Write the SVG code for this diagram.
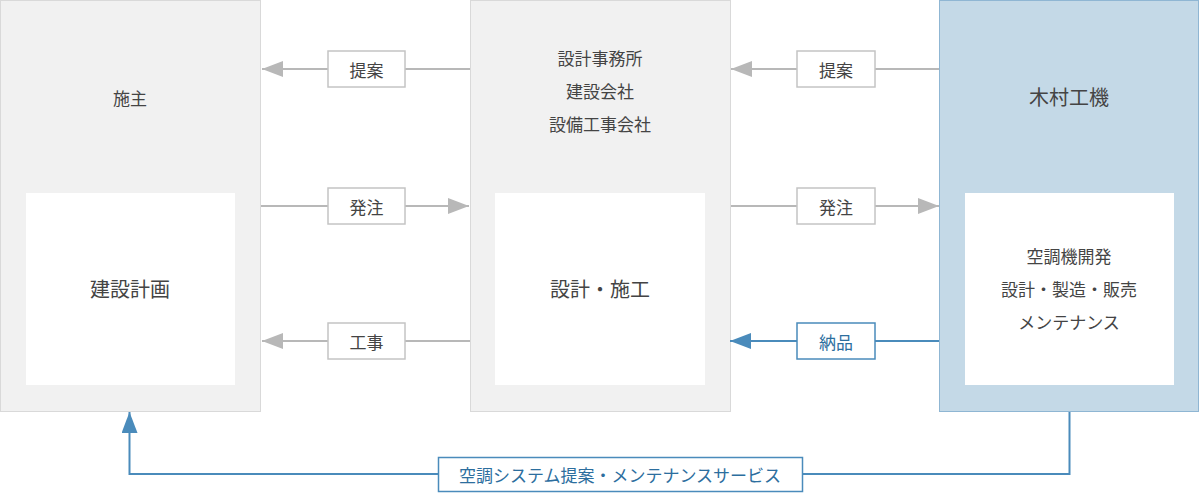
<svg xmlns="http://www.w3.org/2000/svg" width="1200" height="493" viewBox="0 0 1200 493">
<defs>
<style>
text{font-family:"Noto Sans CJK JP","Noto Sans",sans-serif;fill:#444;text-anchor:middle;dominant-baseline:central}
.box{fill:#f1f1f1;stroke:#d9d9d9;stroke-width:1}
.kbox{fill:#c4d9e7;stroke:#8fb6d3;stroke-width:1}
.inner{fill:#fff}
.g{stroke:#b8b8b8;stroke-width:2;fill:none}
.b{stroke:#4a8bbb;stroke-width:2;fill:none}
.lbl{fill:#fff;stroke:#c4c4c4;stroke-width:1.5}
.lblb{fill:#fff;stroke:#4a8bbb;stroke-width:1.5}
.s{font-size:17px}
.m{font-size:20px}
.bt{fill:#2c6e9e}
</style>
<marker id="ag" markerWidth="22" markerHeight="16" refX="21" refY="8" orient="auto" markerUnits="userSpaceOnUse"><path d="M0,0 L21,8 L0,16 z" fill="#b8b8b8"/></marker>
<marker id="ab" markerWidth="22" markerHeight="16" refX="21" refY="8" orient="auto" markerUnits="userSpaceOnUse"><path d="M0,0 L21,8 L0,16 z" fill="#4a8bbb"/></marker>
</defs>
<g id="client">
<rect class="box" x="0.5" y="0.5" width="260" height="411"/>
<rect class="inner" x="26" y="193" width="209" height="192"/>
<text class="s" x="130" y="97">施主</text>
<text class="m" x="130" y="288">建設計画</text>
</g>
<g id="contractor">
<rect class="box" x="470.5" y="0.5" width="260" height="411"/>
<rect class="inner" x="495" y="193" width="210" height="192"/>
<text class="s" x="600" y="57">設計事務所</text>
<text class="s" x="600" y="90">建設会社</text>
<text class="s" x="600" y="123">設備工事会社</text>
<text class="m" x="600" y="288">設計・施工</text>
</g>
<g id="kimura">
<rect class="kbox" x="939.5" y="0.5" width="259" height="411"/>
<rect class="inner" x="965" y="193" width="209" height="192"/>
<text class="m" x="1069" y="96">木村工機</text>
<text class="s" x="1069" y="255">空調機開発</text>
<text class="s" x="1069" y="288">設計・製造・販売</text>
<text class="s" x="1069" y="321">メンテナンス</text>
</g>
<g id="connectors">
<line class="g" x1="470" y1="69" x2="262" y2="69" marker-end="url(#ag)"/>
<line class="g" x1="261" y1="206" x2="469" y2="206" marker-end="url(#ag)"/>
<line class="g" x1="470" y1="341" x2="262" y2="341" marker-end="url(#ag)"/>
<line class="g" x1="939" y1="69" x2="731" y2="69" marker-end="url(#ag)"/>
<line class="g" x1="731" y1="206" x2="939" y2="206" marker-end="url(#ag)"/>
<line class="b" x1="939" y1="341" x2="730" y2="341" marker-end="url(#ab)"/>
<polyline class="b" points="1069.5,412 1069.5,474 129.5,474 129.5,412" marker-end="url(#ab)"/>
<rect class="lbl" x="328" y="51" width="77" height="36"/>
<text class="s" x="366.5" y="69">提案</text>
<rect class="lbl" x="328" y="188" width="77" height="36"/>
<text class="s" x="366.5" y="206">発注</text>
<rect class="lbl" x="328" y="323" width="77" height="36"/>
<text class="s" x="366.5" y="341">工事</text>
<rect class="lbl" x="797" y="51" width="78" height="36"/>
<text class="s" x="836" y="69">提案</text>
<rect class="lbl" x="797" y="188" width="78" height="36"/>
<text class="s" x="836" y="206">発注</text>
<rect class="lblb" x="797" y="323" width="78" height="36"/>
<text class="s bt" x="836" y="341">納品</text>
<rect class="lblb" x="438.5" y="457.5" width="364" height="34"/>
<text class="s bt" x="620" y="474">空調システム提案・メンテナンスサービス</text>
</g>
</svg>
